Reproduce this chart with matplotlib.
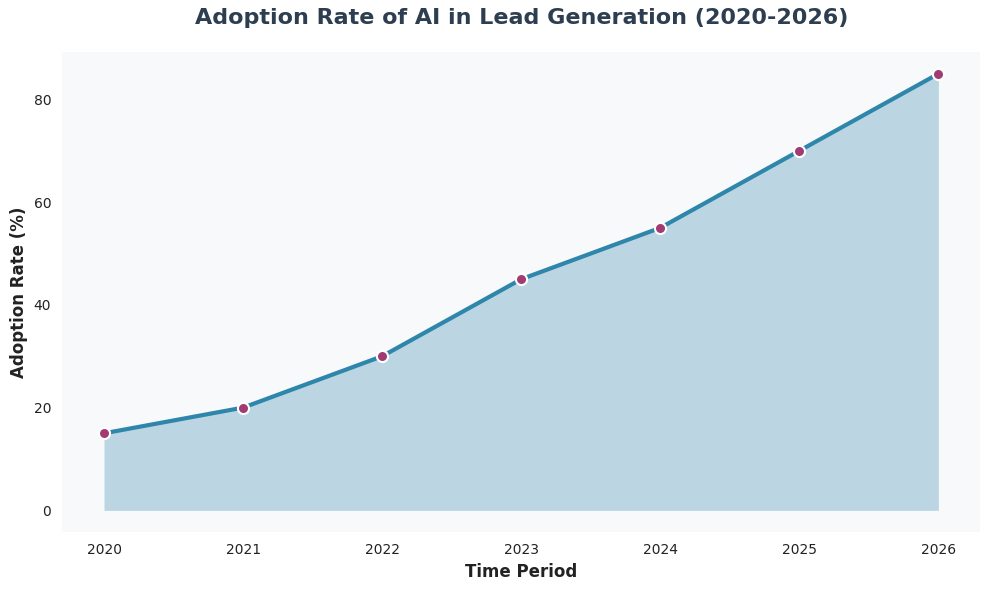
import matplotlib
matplotlib.use('Agg')
import matplotlib.pyplot as plt

# Data
years = [2020, 2021, 2022, 2023, 2024, 2025, 2026]
adoption = [15, 20, 30, 45, 55, 70, 85]

fig, ax = plt.subplots(figsize=(9.89, 5.9), dpi=100)
ax.set_facecolor('#f8f9fa')

ax.fill_between(years, adoption, 0, color='#2e86ab', alpha=0.3, linewidth=0)
ax.plot(years, adoption, color='#2e86ab', linewidth=3, marker='o', markersize=8,
        markerfacecolor='#a23b72', markeredgecolor='white', markeredgewidth=1.5, zorder=3)

ax.set_title('Adoption Rate of AI in Lead Generation (2020-2026)', fontsize=16,
             fontweight='bold', color='#2c3e50', pad=20)
ax.set_xlabel('Time Period', fontsize=12, fontweight='bold', color='#222222')
ax.set_ylabel('Adoption Rate (%)', fontsize=12, fontweight='bold', color='#222222')
ax.set_xticks(years)
ax.tick_params(length=0, labelsize=10, colors='#222222', pad=8)
for s in ax.spines.values():
    s.set_visible(False)

fig.subplots_adjust(left=0.063, right=0.991, top=0.912, bottom=0.098)
plt.savefig('out.png', dpi=100)
